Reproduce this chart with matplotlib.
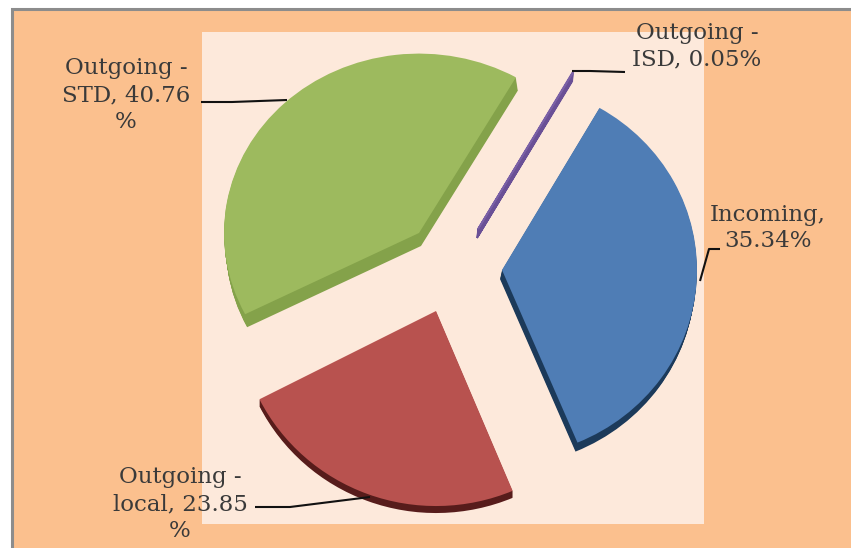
import matplotlib
matplotlib.use("Agg")
import matplotlib.pyplot as plt
from matplotlib.patches import Rectangle
from matplotlib.transforms import Affine2D

# values from the chart
categories = ["Incoming", "Outgoing - local", "Outgoing - STD", "Outgoing - ISD"]
shares = [35.34, 23.85, 40.76, 0.05]
label_texts = ["Incoming,\n35.34%", "Outgoing -\nlocal, 23.85\n%", "Outgoing -\nSTD, 40.76\n%", "Outgoing -\nISD, 0.05%"]

# colours
top_colors = ["#4F7DB5", "#B8524F", "#9DBA5E", "#7A60A6"]
side_colors = ["#1C3A5A", "#571C1B", "#84A24A", "#6A5096"]

# slice placement in image pixels (apex x, apex y, radius, y squash, depth, depth shift)
apex_x = [502, 436, 419, 478]
apex_y = [270, 311, 233, 229]
radius = [195, 198, 195, 190]
squash = [0.96, 0.985, 0.92, 0.95]
depth = [9, 7, 13, 9]
depth_dx = [-2, 0, 2, -1]
edge_w = [0, 0, 0, 1.2]

H = 548


def draw_slice(ax, i, x, y, color):
    # one pie per slice, the others stay hidden, so each piece can sit on its own apex
    colors = ["none"] * len(shares)
    colors[i] = color
    wedges, _ = ax.pie(shares, colors=colors, startangle=60, counterclock=False,
                       center=(x, H - y), radius=radius[i], frame=True,
                       wedgeprops={"linewidth": 0})
    for j, w in enumerate(wedges):
        if j != i:
            w.set_visible(False)
    # the purple sliver is thinner than a pixel, it needs an edge to show
    wedges[i].set_edgecolor(color)
    wedges[i].set_linewidth(edge_w[i])
    tr = Affine2D().translate(-x, -(H - y)).scale(1, squash[i]).translate(x, H - y)
    wedges[i].set_transform(tr + ax.transData)


def leader(ax, xs, ys):
    ax.plot(xs, [H - v for v in ys], color="#111111", lw=1.5, solid_capstyle="butt")


fig = plt.figure(figsize=(8.51, 5.48), dpi=100, facecolor="white")
ax = fig.add_axes([0, 0, 1, 1])

# frame, chart area and plot area
ax.add_patch(Rectangle((12, -5), 845, H - 4, fc="#FBC08E", ec="#8C8C8C", lw=2.2))
ax.add_patch(Rectangle((202, H - 524), 502, 492, fc="#FDE9DB", ec="none"))

for i in range(len(shares)):
    for k in range(1, depth[i] + 1):
        f = k / depth[i]
        draw_slice(ax, i, apex_x[i] + depth_dx[i] * f, apex_y[i] + k, side_colors[i])
    draw_slice(ax, i, apex_x[i], apex_y[i], top_colors[i])

# leader lines
leader(ax, [700, 709, 720], [281, 249, 249])
leader(ax, [255, 290, 370], [507, 507, 497])
leader(ax, [201, 232, 287], [102, 102, 100])
leader(ax, [572, 590, 625], [71, 71, 72])

# data labels
label_x = [768, 180, 126, 697]
label_y = [228, 504, 95, 46]
for t, x, y in zip(label_texts, label_x, label_y):
    ax.text(x, H - y, t, ha="center", va="center", family="DejaVu Serif",
            fontsize=16.5, color="#3A3A3A", linespacing=1.29)

ax.set_xlim(0, 851)
ax.set_ylim(0, H)
ax.axis("off")
fig.savefig("out.png", dpi=100, facecolor="white")
